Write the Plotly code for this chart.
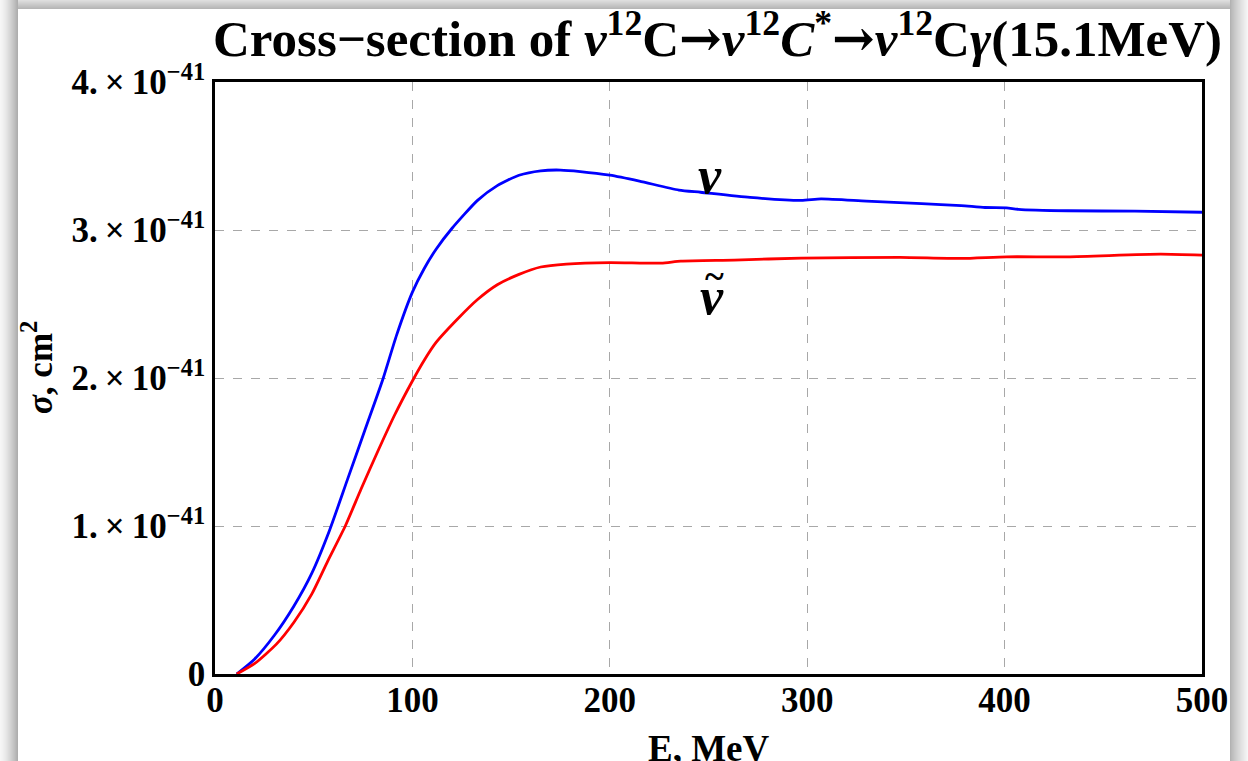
import plotly.graph_objects as go

# Neutrino energy (MeV) and cross-section (units of 1e-41 cm^2)
E_nu = [11, 20, 30, 40, 49, 58, 67, 76, 85, 92, 100, 106, 112, 120, 133, 143, 154, 165,
        175, 185, 200, 215, 235, 246, 271, 297, 307, 330, 358, 378, 390, 401, 407,
        432, 466, 500]
sig_nu = [0, 0.10, 0.26, 0.46, 0.68, 0.97, 1.31, 1.65, 1.99, 2.29, 2.58, 2.74, 2.87, 3.01,
          3.20, 3.30, 3.37, 3.40, 3.405, 3.395, 3.37, 3.33, 3.27, 3.255, 3.22, 3.20,
          3.21, 3.195, 3.178, 3.165, 3.152, 3.15, 3.14, 3.13, 3.127, 3.12]

# Antineutrino
E_nubar = [11, 20, 31, 40, 49, 57, 66, 74, 83, 91, 100, 106, 112, 123, 133, 143, 154, 165,
           178, 200, 226, 236, 263, 297, 347, 378, 401, 432, 479, 500]
sig_nubar = [0, 0.07, 0.20, 0.35, 0.54, 0.76, 1.0, 1.25, 1.52, 1.75, 1.98, 2.12, 2.24, 2.40,
             2.53, 2.63, 2.70, 2.75, 2.77, 2.78, 2.776, 2.79, 2.797, 2.81, 2.815, 2.808,
             2.819, 2.819, 2.837, 2.83]

SCALE = 1e-41
x_ticks = [0, 100, 200, 300, 400, 500]
y_ticks = [0, 1, 2, 3, 4]
y_ticktext = ["<b>0</b>"] + [f"<b>{v}.\u2009\u00d7\u200910<sup>\u221241</sup></b>" for v in y_ticks[1:]]

W_FIG, H_FIG = 1248, 761
L, R, T, B = 215, 1202, 82, 674
SERIF = "Liberation Serif"


def px_x(p):
    return (p - L) / (R - L)


def px_y(p):
    return (B - p) / (B - T)


fig = go.Figure()
fig.add_trace(go.Scatter(x=E_nu, y=[s * SCALE for s in sig_nu], mode="lines",
                         line=dict(color="#0000ff", width=2.8, shape="spline", smoothing=0.6),
                         showlegend=False))
fig.add_trace(go.Scatter(x=E_nubar, y=[s * SCALE for s in sig_nubar], mode="lines",
                         line=dict(color="#ff0000", width=2.8, shape="spline", smoothing=0.6),
                         showlegend=False))

# soft drop-shadow frame around the white panel
shapes = []
def strip(x0, x1, y0, y1, g):
    c = f"rgb({g},{g},{g})"
    shapes.append(dict(type="rect", xref="paper", yref="paper",
                       x0=px_x(x0), x1=px_x(x1), y0=px_y(y0), y1=px_y(y1),
                       fillcolor=c, line=dict(width=0), layer="above"))

for i in range(18):
    g = int(246 - 72 * (i / 17) ** 1.4)
    strip(i, i + 1, 0, H_FIG, g)
for i in range(18):
    g = int(178 + 68 * (i / 17) ** 0.8)
    strip(1230 + i, 1231 + i, 0, H_FIG, g)
for i in range(9):
    g = int(222 - 40 * (i / 8))
    strip(18, 1230, i, i + 1, g)

fig.update_layout(
    width=W_FIG, height=H_FIG,
    margin=dict(l=L, r=W_FIG - R, t=T, b=H_FIG - B),
    paper_bgcolor="white", plot_bgcolor="white",
    font=dict(family=SERIF, color="black"),
    shapes=shapes,
    xaxis=dict(range=[0, 500], tickvals=x_ticks,
               ticktext=[f"<b>{v}</b>" for v in x_ticks],
               tickfont=dict(size=35, family=SERIF), ticks="", ticklabelstandoff=-7,
               showgrid=True, gridcolor="#a8a8a8", griddash="dash", gridwidth=1,
               showline=True, linecolor="black", linewidth=2.5, mirror=True,
               zeroline=False),
    yaxis=dict(range=[0, 4 * SCALE], tickvals=[v * SCALE for v in y_ticks],
               ticktext=y_ticktext,
               tickfont=dict(size=35, family=SERIF), ticks="",
               showgrid=True, gridcolor="#a8a8a8", griddash="dash", gridwidth=1,
               showline=True, linecolor="black", linewidth=2.5, mirror=True,
               zeroline=False),
)

ARROW = "<span style=\"font-family:'DejaVu Serif'\">\u2192</span>"
title_text = ("<b>Cross\u2212section of <i>\u03bd</i><sup>12</sup>C" + ARROW +
              "<i>\u03bd</i><sup>12</sup><i>C</i><sup>*</sup>" + ARROW +
              "<i>\u03bd</i><sup>12</sup>C<i>\u03b3</i>(15.1MeV)</b>")

annotations = [
    dict(text=title_text,
         xref="paper", yref="paper", x=px_x(717), y=px_y(35),
         xanchor="center", yanchor="middle", showarrow=False,
         font=dict(size=51, family=SERIF)),
    dict(text="<b>E, MeV</b>", xref="paper", yref="paper", x=px_x(709), y=px_y(726),
         xanchor="center", yanchor="top", showarrow=False,
         font=dict(size=37, family=SERIF)),
    dict(text="<b><i>\u03c3</i>, cm<sup>2</sup></b>", xref="paper", yref="paper",
         x=px_x(37), y=px_y(368), textangle=-90,
         xanchor="center", yanchor="middle", showarrow=False,
         font=dict(size=35, family=SERIF)),
    dict(text="<b><i>\u03bd</i></b>", xref="x", yref="y", x=251, y=3.37 * SCALE,
         xanchor="center", yanchor="middle", showarrow=False,
         font=dict(size=52, family=SERIF)),
    dict(text="<b><i>\u03bd</i></b>", xref="x", yref="y", x=252, y=2.55 * SCALE,
         xanchor="center", yanchor="middle", showarrow=False,
         font=dict(size=52, family=SERIF)),
    dict(text="<b>~</b>", xref="x", yref="y", x=253, y=2.69 * SCALE,
         xanchor="center", yanchor="middle", showarrow=False,
         font=dict(size=36, family=SERIF)),
]
fig.update_layout(annotations=annotations)

fig.write_html("out.html")
